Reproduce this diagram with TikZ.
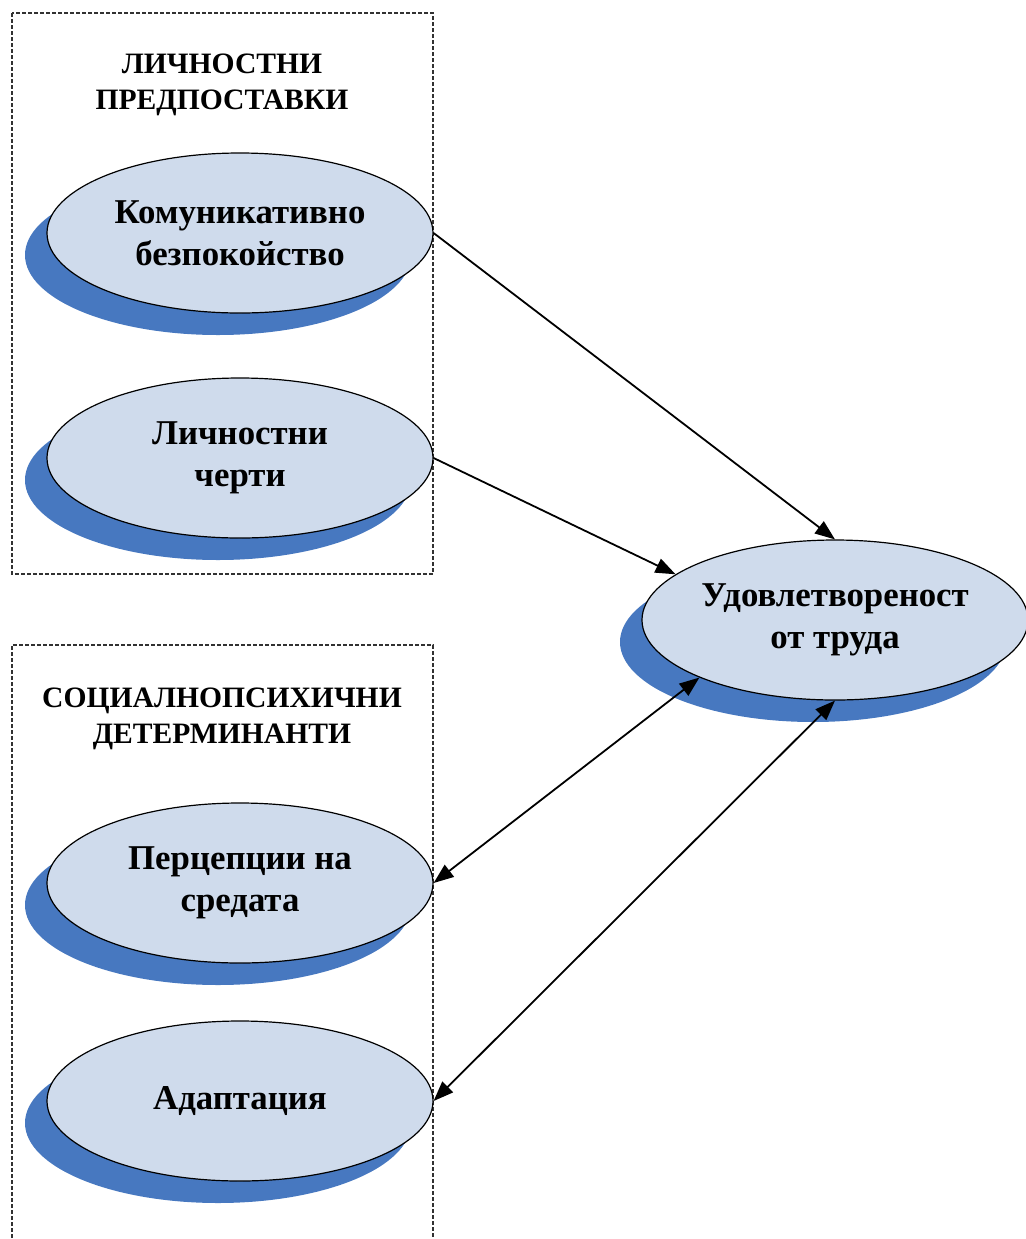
\documentclass[tikz,border=0pt]{standalone}
\usepackage{fontspec}
\setmainfont{Liberation Serif}
\usetikzlibrary{shapes.geometric,shadows,arrows.meta}

\newlength{\du}
\setlength{\du}{0.5pt}

\definecolor{ovalfill}{RGB}{207,219,236}
\definecolor{ovalshadow}{RGB}{71,120,192}
\definecolor{framegray}{RGB}{50,50,50}

\tikzset{
  factor/.style={ellipse, draw=black, line width=0.6pt, fill=ovalfill,
    minimum width=386\du, minimum height=160\du, inner sep=0pt,
    align=center, font=\fontsize{17.4}{21}\selectfont\bfseries,
    general shadow={fill=ovalshadow, draw=none, shadow xshift=-11pt, shadow yshift=-11pt}},
  grouptitle/.style={align=center, font=\fontsize{14.8}{18}\selectfont\bfseries},
  groupframe/.style={draw=framegray, line width=0.55pt, dash pattern=on 2pt off 1pt},
  link/.style={line width=0.9pt, -{Triangle[length=10pt,width=7.5pt]}},
  mutual/.style={line width=0.9pt, {Triangle[length=10pt,width=7.5pt]}-{Triangle[length=10pt,width=7.5pt]}}
}

\begin{document}
\begin{tikzpicture}[x=\du,y=-\du]
\useasboundingbox (0,0) rectangle (1026,1239);
% dashed group frames
\draw[groupframe] (12,13) rectangle (433,574);
\draw[groupframe] (12,1250) -- (12,645) -- (433,645) -- (433,1250);
\node[grouptitle] (persontitle) at (222,85) {ЛИЧНОСТНИ\\ПРЕДПОСТАВКИ};
\node[grouptitle] (socialtitle) at (222,719) {СОЦИАЛНОПСИХИЧНИ\\ДЕТЕРМИНАНТИ};
% factors
\node[factor] (anxiety) at (240,233) {Комуникативно\\безпокойство};
\node[factor] (traits) at (240,458) {Личностни\\черти};
\node[factor] (perception) at (240,883) {Перцепции на\\средата};
\node[factor] (adaptation) at (240,1101) {Адаптация};
\node[factor] (satisfaction) at (835,620) {Удовлетвореност\\от труда};
% links
\draw[link] (anxiety.east) -- (satisfaction.north);
\draw[link] (traits.east) -- (satisfaction.164);
\draw[mutual] (perception.east) -- (satisfaction.203);
\draw[mutual] (adaptation.east) -- (satisfaction.south);
\end{tikzpicture}
\end{document}
